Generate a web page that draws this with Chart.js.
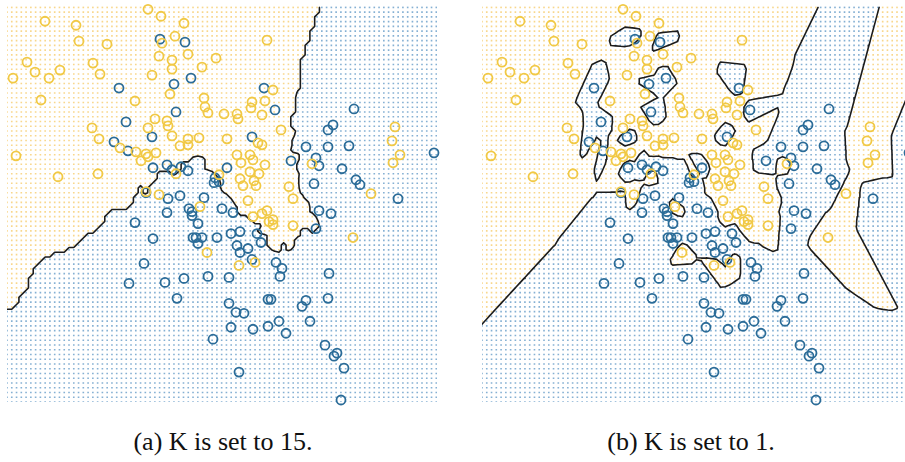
<!DOCTYPE html>
<html>
<head>
<meta charset="utf-8">
<script src="https://cdn.jsdelivr.net/npm/chart.js@4/dist/chart.umd.min.js"></script>
<style>
  html, body { margin: 0; padding: 0; background: #fff; overflow: hidden; width: 905px; height: 462px; }
  .panel { position: absolute; top: 0; width: 445px; height: 410px; }
  #panelA { left: 0; }
  #panelB { left: 475px; }
  .cap { position: absolute; top: 427px; width: 300px; line-height: 30px; text-align: center;
         font-family: "Liberation Serif", "Times New Roman", serif; font-size: 26px; color: #111; }
</style>
</head>
<body>
<canvas id="panelA" class="panel" width="445" height="410"></canvas>
<canvas id="panelB" class="panel" width="445" height="410"></canvas>
<div class="cap" id="capA" style="left:73px"></div>
<div class="cap" id="capB" style="left:541px"></div>
<script>
// Training samples, two features each: [feature 1, feature 2]
const yellowClass = [
  [141,394],[154,387],[38,382],[69,378],[177,380],[72,362],[100,359],[168,367],[155,360],[181,349],
  [152,347],[209,345],[165,343],[165,334],[20,341],[28,331],[42,325],[53,333],[6,325],[86,340],
  [93,329],[145,328],[195,336],[34,303],[128,302],[163,309],[197,305],[198,296],[201,290],[217,289],
  [85,275],[92,264],[148,284],[160,282],[161,277],[141,275],[165,267],[181,264],[181,258],[192,265],
  [220,264],[173,257],[113,255],[129,251],[139,249],[141,246],[149,250],[134,242],[9,247],[51,226],
  [91,229],[169,229],[212,228],[139,211],[152,208],[260,363],[266,313],[245,301],[244,295],[258,302],
  [255,288],[230,289],[231,284],[274,273],[251,260],[255,258],[230,248],[243,248],[246,243],[234,240],
  [258,238],[243,231],[252,229],[233,224],[236,217],[247,222],[249,217],[282,216],[286,204],[241,202],
  [305,239],[364,209],[388,276],[385,262],[393,248],[386,240],[193,196],[200,150],[246,186],[255,189],
  [260,192],[262,181],[266,183],[266,178],[286,177],[346,165],[232,137],[248,140]
];
const blueClass = [
  [153,364],[178,361],[167,319],[184,325],[112,315],[169,291],[119,281],[145,266],[107,261],[121,252],
  [146,235],[160,238],[174,236],[165,233],[181,232],[220,235],[208,225],[212,221],[207,220],[173,207],
  [161,204],[197,205],[257,315],[268,293],[245,266],[284,242],[347,294],[326,278],[321,273],[299,256],
  [321,256],[342,257],[309,245],[312,237],[335,234],[349,223],[353,218],[307,219],[391,204],[427,250],
  [139,210],[160,190],[182,194],[185,191],[185,187],[215,194],[226,190],[128,180],[191,179],[186,165],
  [189,165],[195,165],[191,159],[210,165],[146,164],[224,169],[233,171],[250,169],[254,160],[230,157],
  [233,150],[241,154],[245,143],[137,139],[122,119],[158,120],[177,124],[201,126],[222,125],[170,104],
  [222,99],[229,90],[237,89],[224,75],[206,63],[269,140],[275,134],[273,126],[312,192],[324,189],
  [309,174],[322,129],[261,103],[264,103],[299,102],[295,96],[321,104],[246,73],[261,76],[272,81],
  [279,69],[303,81],[318,57],[330,49],[327,46],[337,34],[232,30],[334,2]
];
const neighbourCounts = [15, 1];
const captions = ['(a) K is set to 15.', '(b) K is set to 1.'];

// Relative weight of each feature in the neighbour distance
const featureWeights = [1, 0.78];

// Feature-space window and the prediction grid laid over it
const xLimits = [0, 430];
const yLimits = [0, 397];
const gridStep = 4.77;
const gridCols = 91;
const gridRows = 84;

const YELLOW = '#f1c945';
const BLUE = '#2b6c98';
const YELLOW_DOT = 'rgba(243,190,70,0.62)';
const BLUE_DOT = 'rgba(58,128,184,0.62)';

const samples = yellowClass.map(p => ({ x: p[0], y: p[1], c: 1 }))
  .concat(blueClass.map(p => ({ x: p[0], y: p[1], c: 0 })));

function dist2(s, px, py) {
  const dx = (s.x - px) * featureWeights[0];
  const dy = (s.y - py) * featureWeights[1];
  return dx * dx + dy * dy;
}

// Positive score = yellow wins the vote, negative = blue
function knnScore(px, py, k) {
  if (k === 1) {
    let dy = Infinity, db = Infinity;
    for (const s of samples) {
      const d = dist2(s, px, py);
      if (s.c === 1) { if (d < dy) dy = d; } else { if (d < db) db = d; }
    }
    return Math.sqrt(db) - Math.sqrt(dy);
  }
  const d = samples.map(s => [dist2(s, px, py), s.c]);
  d.sort((a, b) => a[0] - b[0]);
  let n = 0;
  for (let i = 0; i < k; i++) n += d[i][1];
  return n / k - 0.5;
}

// Marching squares over the prediction grid -> boundary segments
function boundarySegments(F) {
  const out = [];
  const cut = (x0, y0, v0, x1, y1, v1) => {
    const t = v0 / (v0 - v1);
    return { x: x0 + (x1 - x0) * t, y: y0 + (y1 - y0) * t };
  };
  const seg = (p, q) => { out.push(p, q, { x: null, y: null }); };
  for (let j = 0; j < gridRows - 1; j++) {
    for (let i = 0; i < gridCols - 1; i++) {
      const x0 = i * gridStep, x1 = (i + 1) * gridStep;
      const y0 = j * gridStep, y1 = (j + 1) * gridStep;
      const a = F[j][i], b = F[j][i + 1], c = F[j + 1][i + 1], d = F[j + 1][i];
      const B = (a > 0) !== (b > 0) ? cut(x0, y0, a, x1, y0, b) : null;
      const R = (b > 0) !== (c > 0) ? cut(x1, y0, b, x1, y1, c) : null;
      const T = (d > 0) !== (c > 0) ? cut(x0, y1, d, x1, y1, c) : null;
      const L = (a > 0) !== (d > 0) ? cut(x0, y0, a, x0, y1, d) : null;
      const hits = [B, R, T, L].filter(Boolean);
      if (hits.length === 2) {
        seg(hits[0], hits[1]);
      } else if (hits.length === 4) {
        const m = (a + b + c + d) / 4;
        if ((m > 0) === (a > 0)) { seg(B, R); seg(T, L); }
        else { seg(B, L); seg(R, T); }
      }
    }
  }
  return out;
}

function buildPanel(canvasId, k) {
  const F = [], yellowDots = [], blueDots = [];
  for (let j = 0; j < gridRows; j++) {
    const row = [];
    for (let i = 0; i < gridCols; i++) {
      const x = i * gridStep, y = j * gridStep;
      const v = knnScore(x, y, k);
      row.push(v);
      (v > 0 ? yellowDots : blueDots).push({ x, y });
    }
    F.push(row);
  }
  const ring = (pts, color) => ({
    data: pts.map(p => ({ x: p[0], y: p[1] })),
    pointStyle: 'circle', pointRadius: 4.5, borderWidth: 1.8,
    borderColor: color, backgroundColor: 'rgba(0,0,0,0)', order: 1, clip: false
  });
  new Chart(document.getElementById(canvasId), {
    type: 'scatter',
    data: {
      datasets: [
        ring(yellowClass, YELLOW),
        ring(blueClass, BLUE),
        {
          data: boundarySegments(F), showLine: true, spanGaps: false,
          pointRadius: 0, borderColor: '#1c1c1c', borderWidth: 1.6,
          borderCapStyle: 'round', borderJoinStyle: 'round', order: 2
        },
        { data: yellowDots, pointStyle: 'rect', pointRadius: 1.15, borderWidth: 0, backgroundColor: YELLOW_DOT, order: 3 },
        { data: blueDots, pointStyle: 'rect', pointRadius: 1.15, borderWidth: 0, backgroundColor: BLUE_DOT, order: 3 }
      ]
    },
    options: {
      responsive: false, animation: false, devicePixelRatio: 1, events: [],
      layout: { padding: { left: 7, top: 5, right: 8, bottom: 8 } },
      plugins: { legend: { display: false }, tooltip: { enabled: false } },
      scales: {
        x: { type: 'linear', min: xLimits[0], max: xLimits[1], display: false },
        y: { type: 'linear', min: yLimits[0], max: yLimits[1], display: false }
      }
    }
  });
}

buildPanel('panelA', neighbourCounts[0]);
buildPanel('panelB', neighbourCounts[1]);
document.getElementById('capA').textContent = captions[0];
document.getElementById('capB').textContent = captions[1];
</script>
</body>
</html>
